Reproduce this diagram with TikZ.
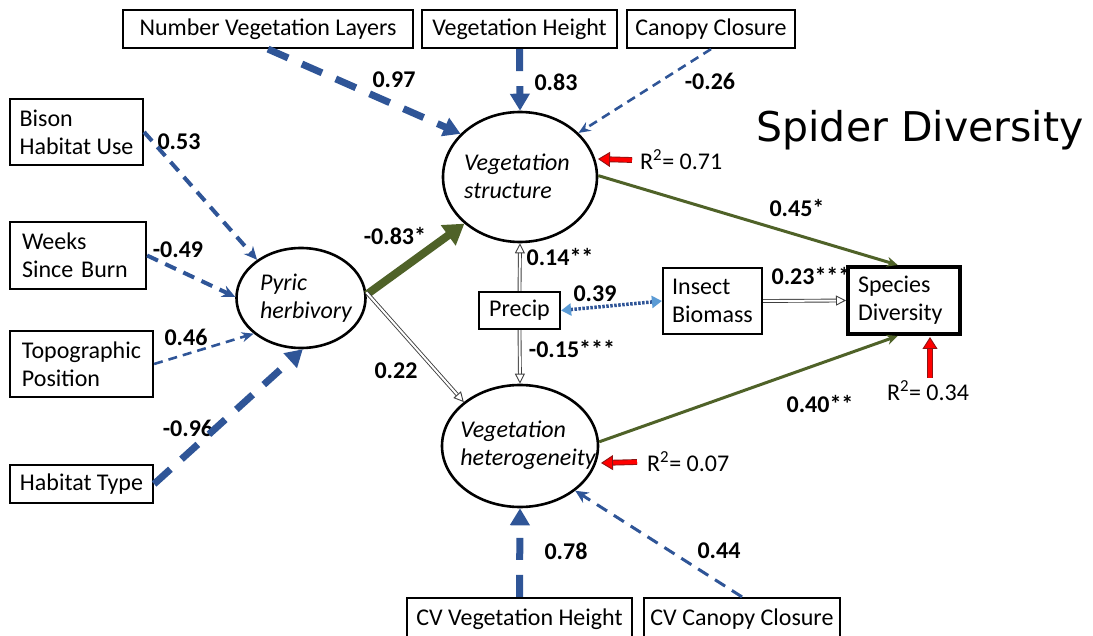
\documentclass[tikz,border=0pt]{standalone}
\usepackage{fontspec}
\setmainfont{Carlito}
\newfontfamily\titlefont{DejaVu Sans}
\usetikzlibrary{arrows.meta,shapes.geometric}
\definecolor{pathblue}{RGB}{47,85,151}
\definecolor{tipblue}{RGB}{91,155,213}
\definecolor{effgreen}{RGB}{79,98,40}
\definecolor{rsqred}{RGB}{255,0,0}
\definecolor{rsqedge}{RGB}{140,20,20}
\begin{document}
\begin{tikzpicture}[x=1pt,y=-1pt,
  box/.style={draw, line width=2.2pt, fill=white, inner sep=0pt, font=\fontsize{24}{28}\selectfont},
  lbox/.style={box, align=left},
  latent/.style={draw, ellipse, line width=2.6pt, inner sep=0pt},
  lattext/.style={font=\fontsize{24}{28}\selectfont\itshape, align=left, inner sep=0pt},
  coef/.style={font=\fontsize{24}{28}\selectfont\bfseries, inner sep=0pt},
  rsq/.style={font=\fontsize{24}{28}\selectfont, inner sep=0pt, anchor=west},
  thickdash/.style={pathblue, line width=7pt, dash pattern=on 22pt off 15pt, -{Triangle[length=17pt,width=19pt]}},
  middash/.style={pathblue, line width=4pt, dash pattern=on 12pt off 8pt, -{Stealth[length=13pt,width=12pt]}},
  thindash/.style={pathblue, line width=2.6pt, dash pattern=on 9pt off 6pt, -{Stealth[length=12pt,width=10pt]}},
  greenthick/.style={effgreen, line width=8pt, -{Triangle[length=20pt,width=24pt]}},
  greenthin/.style={effgreen, line width=3pt, -{Stealth[length=11pt,width=10pt]}},
  dbl/.style={draw=black!75, line width=0.9pt, double=white, double distance=2pt, -{Triangle[length=10pt,width=10pt,fill=white,line width=0.9pt]}},
  dotarrow/.style={pathblue, line width=3.5pt, dash pattern=on 2.5pt off 1.5pt, {Triangle[length=10pt,width=12pt,color=tipblue]}-{Triangle[length=10pt,width=12pt,color=tipblue]}},
  rsqarrow/.style={draw=rsqedge, line width=0.9pt, double=rsqred, double distance=4pt, -{Triangle[length=12pt,width=15pt,fill=rsqred,line width=0.9pt]}}
]
\useasboundingbox (0,0) rectangle (1093,636);

% title
\node[font=\titlefont\fontsize{41}{48}\selectfont, inner sep=0pt] (title) at (920,130) {Spider Diversity};

% path coefficients
\node[coef] (c097) at (394,80) {0.97};
\node[coef] (c083) at (556,82) {0.83};
\node[coef] (c026) at (710,81) {-0.26};
\node[coef] (c053) at (179,142) {0.53};
\node[coef] (c049) at (178,250) {-0.49};
\node[coef] (c046) at (186,337) {0.46};
\node[coef] (c096) at (188,428) {-0.96};
\node[coef] (c083s) at (395,236) {-0.83*};
\node[coef] (c022) at (396,371) {0.22};
\node[coef] (c014) at (560,257) {0.14**};
\node[coef] (c039) at (595,294) {0.39};
\node[coef] (c015) at (572,349) {-0.15***};
\node[coef] (c045) at (797,208) {0.45*};
\node[coef] (c023) at (811,276) {0.23***};
\node[coef] (c040) at (820,404) {0.40**};
\node[coef] (c078) at (566,551) {0.78};
\node[coef] (c044) at (719,551) {0.44};

% observed variables
\node[box, minimum width=290pt, minimum height=38pt] (nvl) at (268,29) {Number Vegetation Layers};
\node[box, minimum width=195pt, minimum height=38pt] (vhgt) at (519.5,29) {Vegetation Height};
\node[box, minimum width=168pt, minimum height=38pt] (cc) at (711,29) {Canopy Closure};
\node[lbox, minimum width=133pt, minimum height=66pt] (bison) at (76.5,132) {Bison\\Habitat Use};
\node[lbox, inner xsep=12pt, text width=112pt, minimum height=67pt] (weeks) at (78,255.5) {Weeks\\Since~Burn};
\node[lbox, minimum width=143pt, minimum height=66pt] (topo) at (81.5,364) {Topographic\\Position};
\node[lbox, minimum width=143pt, minimum height=38pt] (habitat) at (81.5,484) {Habitat Type};
\node[box, minimum width=81pt, minimum height=37pt] (precip) at (519.5,310.5) {Precip};
\node[lbox, minimum width=99pt, minimum height=66pt] (insect) at (712.5,301) {Insect\\Biomass};
\node[lbox, line width=4pt, inner xsep=10pt, text width=92pt, minimum height=67pt] (species) at (904,300.5) {Species\\Diversity};
\node[box, minimum width=225pt, minimum height=42pt] (cvvh) at (519.5,619) {CV Vegetation Height};
\node[box, minimum width=196pt, minimum height=42pt] (cvcc) at (742,619) {CV Canopy Closure};

% latent variables
\node[latent, minimum width=129pt, minimum height=100pt] (pyric) at (301,298) {};
\node[latent, minimum width=154pt, minimum height=130pt] (vstruct) at (520,177) {};
\node[latent, minimum width=156pt, minimum height=122pt] (vhet) at (520,446) {};
\node[lattext] (pyrictext) at (306,298) {Pyric\\herbivory};
\node[lattext] (vstructtext) at (517,176) {Vegetation\\structure};
\node[lattext] (vhettext) at (528,445) {Vegetation\\heterogeneity};

% explained variance
\node[rsq] (rsq71) at (640,160) {R\textsuperscript{2}= 0.71};
\node[rsq] (rsq07) at (647,462) {R\textsuperscript{2}= 0.07};
\node[rsq, anchor=center] (rsq34) at (928,391) {R\textsuperscript{2}= 0.34};
\coordinate (tip71) at (598,159);
\coordinate (tip07) at (601,463);
\coordinate (tip34) at (930,337);

% indicators of vegetation structure
\draw[thickdash] (nvl.south) -- (vstruct.144);
\draw[thickdash] (vhgt.south) -- (vstruct.north);
\draw[thindash] (cc.south) -- (vstruct.37);

% drivers of pyric herbivory
\draw[middash] (bison.east) -- (pyric.139);
\draw[middash] (weeks.east) -- (pyric.179);
\draw[thindash] (topo.east) -- (pyric.217);
\draw[thickdash] (habitat.east) -- (pyric.272);

% structural paths
\draw[greenthick] (pyric.3) -- (vstruct.220);
\draw[dbl] (pyric.5) -- (vhet.142);
\draw[dbl] (precip.north) -- (vstruct.south);
\draw[dbl] (precip.south) -- (vhet.north);
\draw[dotarrow] (precip.east) -- (insect.west);
\draw[dbl] (insect.east) -- (species.west);
\draw[greenthin] (vstruct.1) -- (species.100);
\draw[greenthin] (vhet.3) -- (species.260);

% indicators of vegetation heterogeneity
\draw[thickdash] (cvvh.north) -- (vhet.south);
\draw[middash, line width=3pt] (cvcc.north) -- (vhet.321);

% R-squared markers
\draw[rsqarrow] ([xshift=-8pt]rsq71.west) -- (tip71);
\draw[rsqarrow] ([xshift=-10pt]rsq07.west) -- (tip07);
\draw[rsqarrow] ([yshift=3pt]rsq34.north -| tip34) -- (tip34);
\end{tikzpicture}
\end{document}
